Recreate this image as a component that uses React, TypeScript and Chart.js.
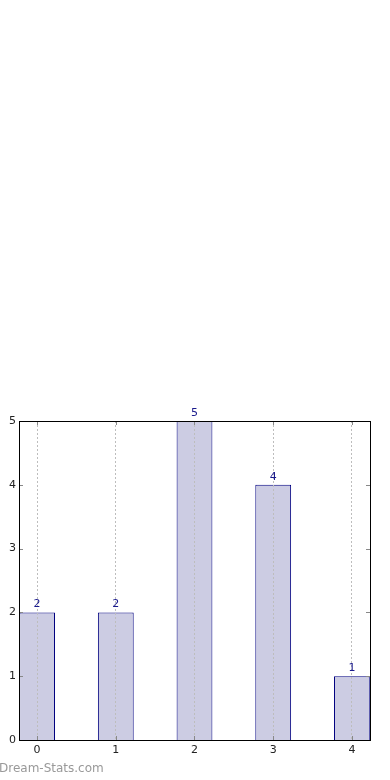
import React, { useEffect, useRef } from "react";
import { Chart, registerables } from "chart.js";

Chart.register(...registerables);

const categories = [0, 1, 2, 3, 4];
const counts = [2, 2, 5, 4, 1];
const yTicks = [0, 1, 2, 3, 4, 5];

const framePlugin = {
  id: "frame",
  afterDraw(chart: any) {
    const { ctx, chartArea: a, scales } = chart;
    ctx.save();
    // inward tick marks
    ctx.strokeStyle = "#888888";
    ctx.lineWidth = 1;
    yTicks.forEach((v) => {
      const y = Math.round(scales.y.getPixelForValue(v)) + 0.5;
      ctx.beginPath();
      ctx.moveTo(a.left, y);
      ctx.lineTo(a.left + 4, y);
      ctx.moveTo(a.right, y);
      ctx.lineTo(a.right - 4, y);
      ctx.stroke();
    });
    categories.forEach((v) => {
      const x = Math.round(scales.x.getPixelForValue(v)) + 0.5;
      ctx.beginPath();
      ctx.moveTo(x, a.bottom);
      ctx.lineTo(x, a.bottom - 4);
      ctx.moveTo(x, a.top);
      ctx.lineTo(x, a.top + 4);
      ctx.stroke();
    });
    // frame
    ctx.strokeStyle = "#000000";
    ctx.lineWidth = 1;
    ctx.strokeRect(
      Math.round(a.left) + 0.5,
      Math.round(a.top) + 0.5,
      Math.round(a.right - a.left),
      Math.round(a.bottom - a.top)
    );
    // value labels
    ctx.fillStyle = "#1a1a8c";
    ctx.font = "11px 'DejaVu Sans'";
    ctx.textAlign = "center";
    ctx.textBaseline = "alphabetic";
    const meta = chart.getDatasetMeta(0);
    meta.data.forEach((bar: any, i: number) => {
      ctx.fillText(String(counts[i]), bar.x, bar.y - 5);
    });
    ctx.restore();
  },
};

export default function App() {
  const ref = useRef<HTMLCanvasElement | null>(null);
  useEffect(() => {
    document.body.style.margin = "0";
    const chart = new Chart(ref.current as HTMLCanvasElement, {
      type: "bar",
      data: {
        datasets: [
          {
            data: categories.map((c, i) => ({ x: c, y: counts[i] })),
            backgroundColor: "#ccccE3",
            borderColor: "#000080",
            borderWidth: 1,
            barPercentage: 0.455,
            categoryPercentage: 1,
          },
        ],
      },
      options: {
        animation: false,
        responsive: false,
        layout: { padding: { top: 421, right: 20, left: 0, bottom: 0 } },
        plugins: { legend: { display: false }, tooltip: { enabled: false } },
        scales: {
          x: {
            type: "linear",
            min: -0.23,
            max: 4.23,
            offset: false,
            afterBuildTicks: (s: any) => {
              s.ticks = categories.map((v) => ({ value: v }));
            },
            afterFit: (s: any) => {
              s.height = 40;
            },
            grid: {
              color: "#bdbdbd",
              lineWidth: 1,
              drawTicks: false,
              offset: false,
              z: 1,
            },
            border: { display: false, dash: [2, 2] },
            ticks: {
              color: "#222222",
              font: { family: "'DejaVu Sans'", size: 11 },
              padding: 4,
              callback: (v: any) => String(v),
            },
          },
          y: {
            min: 0,
            max: 5,
            afterBuildTicks: (s: any) => {
              s.ticks = yTicks.map((v) => ({ value: v }));
            },
            afterFit: (s: any) => {
              s.width = 19;
            },
            grid: { display: false, drawTicks: false },
            border: { display: false },
            ticks: {
              color: "#222222",
              font: { family: "'DejaVu Sans'", size: 11 },
              padding: 3,
            },
          },
        },
      },
      plugins: [framePlugin],
    } as any);
    return () => chart.destroy();
  }, []);
  return (
    <div style={{ position: "fixed", left: 0, top: 0, width: 390, height: 780 }}>
      <canvas ref={ref} width={390} height={780} style={{ width: 390, height: 780, display: "block" }} />
      <div
        style={{
          position: "absolute",
          left: -1,
          top: 761,
          fontFamily: "'DejaVu Sans'",
          fontSize: 12,
          color: "#999999",
        }}
      >
        Dream-Stats.com
      </div>
    </div>
  );
}
